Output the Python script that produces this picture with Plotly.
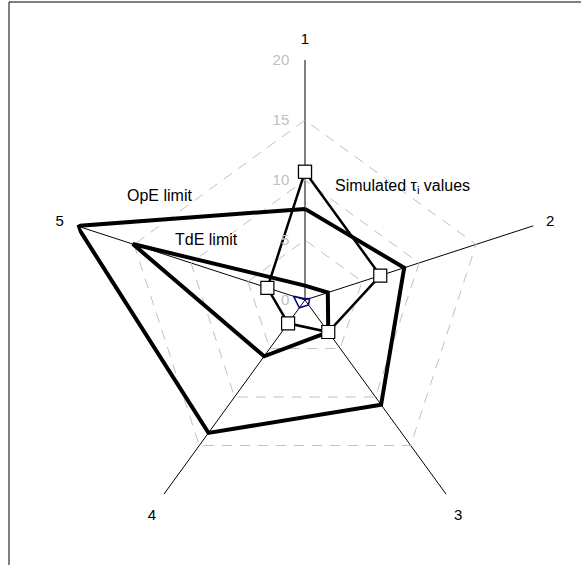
import plotly.graph_objects as go

# axis categories of the radar chart
axes = ["1", "2", "3", "4", "5"]

# values (radial scale 0..20)
ope_limit = [7.6, 8.7, 10.8, 13.7, 20.0]
tde_limit = [1.2, 2.0, 3.3, 5.8, 15.1]
simulated = [10.7, 6.6, 3.3, 2.4, 3.3]
small_series = [0.1, 0.4, 0.5, 0.8, 1.0]

radial_ticks = [0, 5, 10, 15, 20]

FONT = "Liberation Sans, Arial, sans-serif"


def closed(vals):
    return vals + vals[:1]


theta = closed(axes)

fig = go.Figure()

fig.add_trace(go.Scatterpolar(
    r=closed(ope_limit), theta=theta, mode="lines",
    line=dict(color="black", width=4), name="OpE limit",
))
fig.add_trace(go.Scatterpolar(
    r=closed(tde_limit), theta=theta, mode="lines",
    line=dict(color="black", width=4), name="TdE limit",
))
fig.add_trace(go.Scatterpolar(
    r=closed(small_series), theta=theta, mode="lines",
    line=dict(color="#000080", width=1.5), name="other",
))
fig.add_trace(go.Scatterpolar(
    r=closed(simulated), theta=theta, mode="lines+markers",
    line=dict(color="black", width=2.5),
    marker=dict(symbol="square", size=13, color="white",
                line=dict(color="black", width=1.2)),
    name="Simulated",
))

# plot area: 480 x 480 px, centre at (305, 300)
L, T, W, H = 65, 60, 480, 480


def px(x):
    return (x - L) / W


def py(y):
    return (T + H - y) / H


fig.update_layout(
    width=581, height=565,
    margin=dict(l=L, r=581 - L - W, t=T, b=565 - T - H),
    paper_bgcolor="white",
    plot_bgcolor="white",
    showlegend=False,
    font=dict(family=FONT, size=15, color="black"),
    polar=dict(
        bgcolor="white",
        gridshape="linear",
        domain=dict(x=[0, 1], y=[0, 1]),
        angularaxis=dict(
            direction="clockwise", rotation=90,
            showline=False, ticks="outside", ticklen=10,
            tickcolor="rgba(0,0,0,0)",
            gridcolor="black", gridwidth=1,
            tickfont=dict(size=15, color="black"),
        ),
        radialaxis=dict(
            range=[0, 20.02], tickvals=radial_ticks,
            angle=90, tickangle=90, side="counterclockwise",
            showline=False, ticks="outside", ticklen=10,
            tickcolor="rgba(0,0,0,0)",
            gridcolor="#c0c0c0", gridwidth=1, griddash="10px,8px",
            tickfont=dict(size=15, color="#c0c0c0"),
        ),
    ),
    annotations=[
        dict(text="OpE limit", x=px(125), y=py(195), xref="paper", yref="paper",
             xanchor="left", yanchor="middle", showarrow=False,
             font=dict(size=16, color="black")),
        dict(text="TdE limit", x=px(173), y=py(239), xref="paper", yref="paper",
             xanchor="left", yanchor="middle", showarrow=False,
             font=dict(size=16, color="black")),
        dict(text="Simulated τ<sub>i</sub> values", x=px(333), y=py(187),
             xref="paper", yref="paper", xanchor="left", yanchor="middle",
             showarrow=False, font=dict(size=16, color="black")),
    ],
    shapes=[
        dict(type="rect", xref="paper", yref="paper",
             x0=px(9), x1=px(590), y0=py(580), y1=py(2),
             line=dict(color="black", width=1), fillcolor="rgba(0,0,0,0)",
             layer="below"),
    ],
)

# drop the browser's default body margin so the figure sits at the page corner
fig.write_html(
    "out.html",
    config={"displayModeBar": False},
    post_script="document.body.style.margin='0';",
)
